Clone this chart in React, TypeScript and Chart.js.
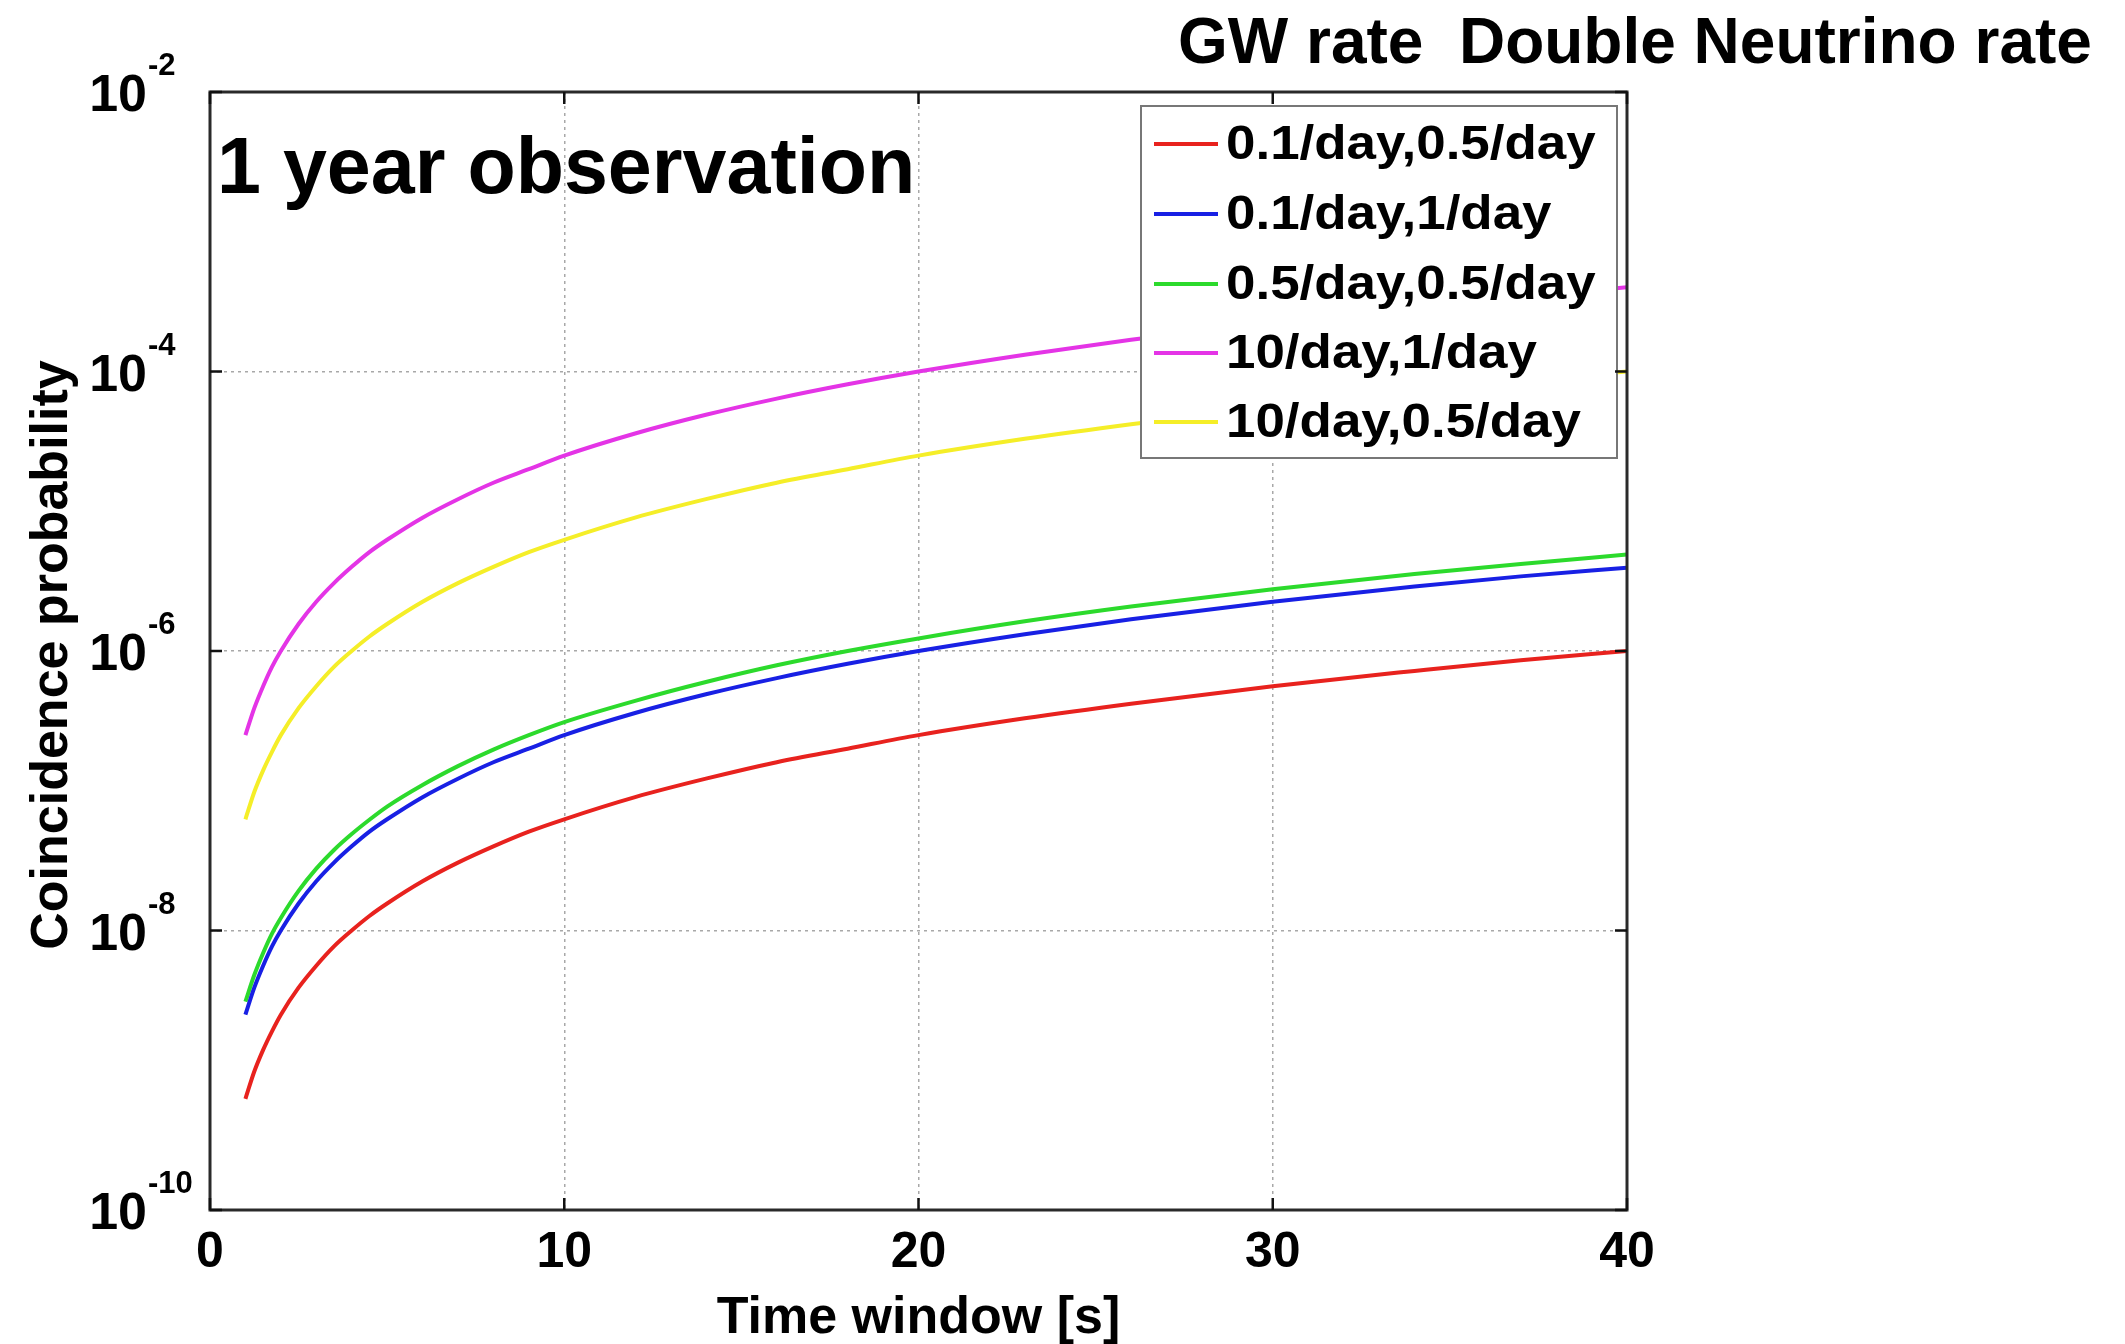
import React, { useEffect, useRef } from "react";
import { Chart, registerables } from "chart.js";

Chart.register(...registerables);

const timeWindow = [1, 1.25, 1.5, 1.75, 2, 2.5, 3, 3.5, 4, 4.5, 5, 6, 7, 8, 9, 10, 12, 14, 16, 18, 20, 23, 26, 30, 34, 37, 40];
const red = [6.25e-10, 9.8e-10, 1.4e-9, 1.9e-9, 2.5e-9, 3.9e-9, 5.6e-9, 7.7e-9, 1.0e-8, 1.27e-8, 1.56e-8, 2.25e-8, 3.06e-8, 4.0e-8, 5.1e-8, 6.25e-8, 9.0e-8, 1.22e-7, 1.6e-7, 2.0e-7, 2.5e-7, 3.3e-7, 4.2e-7, 5.6e-7, 7.2e-7, 8.6e-7, 1.0e-6];
const blue = [2.5e-9, 3.9e-9, 5.6e-9, 7.7e-9, 1.0e-8, 1.56e-8, 2.25e-8, 3.06e-8, 4.0e-8, 5.1e-8, 6.25e-8, 9.0e-8, 1.22e-7, 1.6e-7, 2.0e-7, 2.5e-7, 3.6e-7, 4.9e-7, 6.4e-7, 8.1e-7, 1.0e-6, 1.32e-6, 1.69e-6, 2.25e-6, 2.89e-6, 3.42e-6, 3.95e-6];
const green = [3.1e-9, 4.8e-9, 6.9e-9, 9.5e-9, 1.23e-8, 1.92e-8, 2.77e-8, 3.77e-8, 4.9e-8, 6.2e-8, 7.7e-8, 1.1e-7, 1.5e-7, 1.97e-7, 2.5e-7, 3.1e-7, 4.4e-7, 6.0e-7, 7.9e-7, 1.0e-6, 1.23e-6, 1.63e-6, 2.08e-6, 2.77e-6, 3.55e-6, 4.2e-6, 4.9e-6];
const magenta = [2.5e-7, 3.9e-7, 5.6e-7, 7.7e-7, 1.0e-6, 1.56e-6, 2.25e-6, 3.06e-6, 4.0e-6, 5.1e-6, 6.25e-6, 9.0e-6, 1.22e-5, 1.6e-5, 2.0e-5, 2.5e-5, 3.6e-5, 4.9e-5, 6.4e-5, 8.1e-5, 1.0e-4, 1.32e-4, 1.69e-4, 2.25e-4, 2.89e-4, 3.42e-4, 4.0e-4];
const yellow = [6.25e-8, 9.8e-8, 1.4e-7, 1.9e-7, 2.5e-7, 3.9e-7, 5.6e-7, 7.7e-7, 1.0e-6, 1.27e-6, 1.56e-6, 2.25e-6, 3.06e-6, 4.0e-6, 5.1e-6, 6.25e-6, 9.0e-6, 1.22e-5, 1.6e-5, 2.0e-5, 2.5e-5, 3.3e-5, 4.2e-5, 5.6e-5, 7.2e-5, 8.6e-5, 1.0e-4];

const seriesLabels = ["0.1/day,0.5/day", "0.1/day,1/day", "0.5/day,0.5/day", "10/day,1/day", "10/day,0.5/day"];
const seriesColors = ["rgb(232,34,30)", "rgb(24,32,228)", "rgb(44,218,44)", "rgb(228,52,230)", "rgb(245,238,40)"];
const seriesValues = [red, blue, green, magenta, yellow];

const xTicks = [0, 10, 20, 30, 40];
const yTicks = [1e-10, 1e-8, 1e-6, 1e-4, 1e-2];
const yTickExponents = ["-10", "-8", "-6", "-4", "-2"];

const chartTitle = "1 year observation";
const headerText = "GW rate  Double Neutrino rate";
const xTitle = "Time window [s]";
const yTitle = "Coincidence probability";

const FONT = "'Liberation Sans', Arial, Helvetica, sans-serif";

const overlayPlugin = {
  id: "overlay",
  afterDatasetsDraw(chart: any) {
    const ctx = chart.ctx;
    const { left, right, top, bottom } = chart.chartArea;
    const xs = chart.scales.x;
    const ys = chart.scales.y;
    ctx.save();

    // legend box
    const lx0 = 1141, lx1 = 1617, ly0 = 106, ly1 = 458;
    ctx.fillStyle = "#ffffff";
    ctx.fillRect(lx0, ly0, lx1 - lx0, ly1 - ly0);
    ctx.strokeStyle = "#777777";
    ctx.lineWidth = 2;
    ctx.strokeRect(lx0, ly0, lx1 - lx0, ly1 - ly0);
    const rowY = [144, 214, 284, 353, 422];
    ctx.font = `bold 49px ${FONT}`;
    ctx.textBaseline = "middle";
    ctx.textAlign = "left";
    seriesLabels.forEach((lab, i) => {
      ctx.strokeStyle = seriesColors[i];
      ctx.lineWidth = 4;
      ctx.beginPath();
      ctx.moveTo(1154, rowY[i]);
      ctx.lineTo(1218, rowY[i]);
      ctx.stroke();
      ctx.fillStyle = "#000";
      ctx.save();
      ctx.translate(1226, rowY[i] + 1);
      ctx.scale(1.08, 1);
      ctx.fillText(lab, 0, 0);
      ctx.restore();
    });

    // frame
    ctx.strokeStyle = "#2a2a2a";
    ctx.lineWidth = 3;
    ctx.strokeRect(left, top, right - left, bottom - top);

    // inward tick marks
    ctx.lineWidth = 2.5;
    ctx.strokeStyle = "#111";
    xTicks.forEach((v) => {
      const px = xs.getPixelForValue(v);
      ctx.beginPath();
      ctx.moveTo(px, bottom);
      ctx.lineTo(px, bottom - 12);
      ctx.moveTo(px, top);
      ctx.lineTo(px, top + 12);
      ctx.stroke();
    });
    yTicks.forEach((v) => {
      const py = ys.getPixelForValue(v);
      ctx.beginPath();
      ctx.moveTo(left, py);
      ctx.lineTo(left + 12, py);
      ctx.moveTo(right, py);
      ctx.lineTo(right - 12, py);
      ctx.stroke();
    });

    // x tick labels
    ctx.fillStyle = "#000";
    ctx.font = `bold 50px ${FONT}`;
    ctx.textAlign = "center";
    ctx.textBaseline = "alphabetic";
    xTicks.forEach((v) => {
      ctx.fillText(String(v), xs.getPixelForValue(v), 1267);
    });

    // y tick labels 10^n
    yTicks.forEach((v, i) => {
      const py = ys.getPixelForValue(v);
      ctx.font = `bold 52px ${FONT}`;
      ctx.textAlign = "right";
      ctx.textBaseline = "alphabetic";
      ctx.fillText("10", 147, py + 19);
      ctx.font = `bold 31px ${FONT}`;
      ctx.textAlign = "left";
      ctx.fillText(yTickExponents[i], 148, py - 17);
    });

    // axis titles
    ctx.font = `bold 52px ${FONT}`;
    ctx.textAlign = "center";
    ctx.fillText(xTitle, (left + right) / 2, 1333);
    ctx.save();
    ctx.translate(67, (top + bottom) / 2 + 4);
    ctx.rotate(-Math.PI / 2);
    ctx.fillText(yTitle, 0, 0);
    ctx.restore();

    // in-plot title
    ctx.font = `bold 79px ${FONT}`;
    ctx.textAlign = "left";
    ctx.fillText(chartTitle, 217, 193);

    // header
    ctx.font = `bold 64px ${FONT}`;
    ctx.fillText(headerText, 1178, 63);

    ctx.restore();
  },
};

export default function App() {
  const ref = useRef<HTMLCanvasElement | null>(null);
  useEffect(() => {
    if (!ref.current) return;
    const chart = new Chart(ref.current, {
      type: "line",
      data: {
        datasets: seriesValues.map((vals, i) => ({
          label: seriesLabels[i],
          data: timeWindow.map((t, j) => ({ x: t, y: vals[j] })),
          borderColor: seriesColors[i],
          backgroundColor: seriesColors[i],
          borderWidth: 4,
          pointRadius: 0,
          cubicInterpolationMode: "monotone" as const,
          fill: false,
        })),
      },
      options: {
        animation: false,
        responsive: false,
        devicePixelRatio: 1,
        layout: { padding: { left: 210, top: 92, right: 498, bottom: 134 } },
        plugins: { legend: { display: false }, tooltip: { enabled: false } },
        scales: {
          x: {
            type: "linear",
            min: 0,
            max: 40,
            afterBuildTicks: (scale: any) => {
              scale.ticks = xTicks.map((v) => ({ value: v }));
            },
            ticks: { display: false },
            grid: { color: "#a8a8a8", lineWidth: 1.5, drawTicks: false },
            border: { display: false, dash: [3, 4] },
          },
          y: {
            type: "logarithmic",
            min: 1e-10,
            max: 1e-2,
            afterBuildTicks: (scale: any) => {
              scale.ticks = yTicks.map((v) => ({ value: v }));
            },
            ticks: { display: false },
            grid: { color: "#a8a8a8", lineWidth: 1.5, drawTicks: false },
            border: { display: false, dash: [3, 4] },
          },
        },
      },
      plugins: [overlayPlugin],
    });
    return () => chart.destroy();
  }, []);
  return (
    <div style={{ position: "absolute", left: 0, top: 0, width: 2125, height: 1344, background: "#fff" }}>
      <canvas ref={ref} width={2125} height={1344} style={{ width: 2125, height: 1344 }} />
    </div>
  );
}
